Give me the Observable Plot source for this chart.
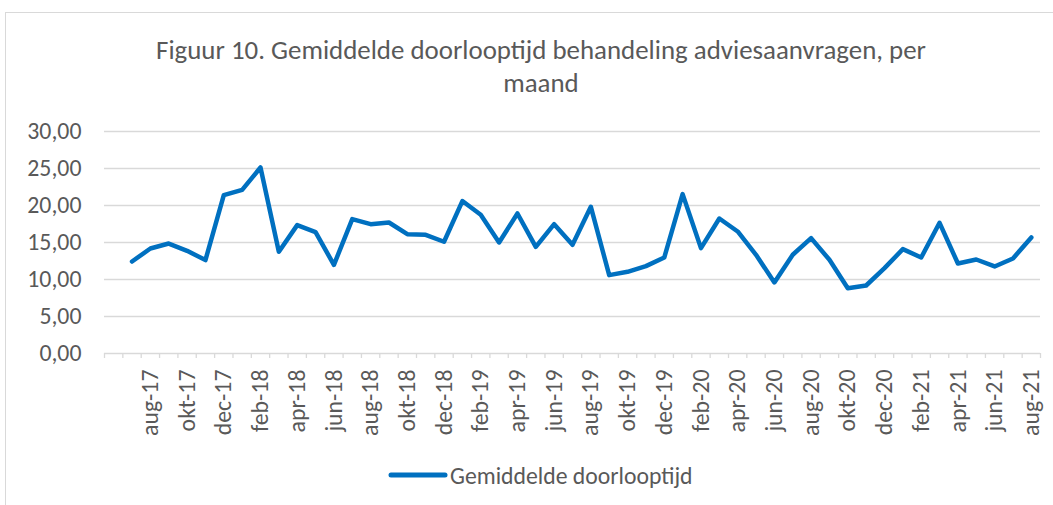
<!DOCTYPE html>
<html>
<head>
<meta charset="utf-8">
<script src="https://cdn.jsdelivr.net/npm/d3@7"></script>
<script src="https://cdn.jsdelivr.net/npm/@observablehq/plot@0.6"></script>
<style>
  html, body { margin: 0; padding: 0; background: #fff; }
  body { width: 1053px; height: 505px; overflow: hidden; position: relative;
         font-family: Calibri, Carlito, "Open Sans", sans-serif; color: #595959; }
  #frame { position: absolute; left: 5px; top: 12px; width: 1100px; height: 600px;
           border: 1px solid #d9d9d9; box-sizing: border-box; }
  #title { position: absolute; left: 0; top: 33px; width: 1082px; text-align: center;
           font-size: 26.9px; line-height: 33px; color: #595959; }
  #chart { position: absolute; left: 0; top: 0; }
  #legend { position: absolute; left: 388px; top: 461px; display: flex; align-items: center;
            font-size: 23.7px; color: #595959; height: 28px; }
</style>
</head>
<body>
<div id="frame"></div>
<div id="chart"></div>
<div id="title">Figuur 10. Gemiddelde doorlooptijd behandeling adviesaanvragen, per<br>maand</div>
<div id="legend"><svg width="60" height="10"><line x1="3" x2="57" y1="5" y2="5" stroke="#0070C0" stroke-width="5" stroke-linecap="round"/></svg><span style="margin-left:2px">Gemiddelde doorlooptijd</span></div>
<script>
// Categories (first category is blank in the source chart)
const months = ["",
  "jul-17","aug-17","sep-17","okt-17","nov-17","dec-17",
  "jan-18","feb-18","mrt-18","apr-18","mei-18","jun-18","jul-18","aug-18","sep-18","okt-18","nov-18","dec-18",
  "jan-19","feb-19","mrt-19","apr-19","mei-19","jun-19","jul-19","aug-19","sep-19","okt-19","nov-19","dec-19",
  "jan-20","feb-20","mrt-20","apr-20","mei-20","jun-20","jul-20","aug-20","sep-20","okt-20","nov-20","dec-20",
  "jan-21","feb-21","mrt-21","apr-21","mei-21","jun-21","jul-21","aug-21"];

const doorlooptijd = [null,
  12.43, 14.19, 14.86, 13.88, 12.62, 21.40,
  22.12, 25.14, 13.74, 17.35, 16.40, 11.98, 18.16, 17.48, 17.70, 16.13, 16.04, 15.10,
  20.60, 18.74, 15.00, 18.92, 14.42, 17.48, 14.69, 19.82, 10.59, 11.04, 11.81, 12.97,
  21.54, 14.24, 18.24, 16.49, 13.34, 9.60, 13.34, 15.59, 12.66, 8.83, 9.19, 11.54,
  14.10, 12.97, 17.66, 12.16, 12.70, 11.76, 12.84, 15.68];

const yTicks = [0, 5, 10, 15, 20, 25, 30];
const seriesName = "Gemiddelde doorlooptijd";

const data = months.map((m, i) => ({i, month: m, value: doorlooptijd[i]}));
const labelIdx = months.map((m, i) => i).filter(i => i % 2 === 0 && months[i] !== "");
const boundaries = d3.range(-0.5, months.length, 1);

const fmt = d => d.toFixed(2).replace(".", ",");

const chart = Plot.plot({
  width: 1053,
  height: 505,
  marginLeft: 104,
  marginRight: 13,
  marginTop: 131,
  marginBottom: 152,
  style: {fontFamily: "Calibri, Carlito, 'Open Sans', sans-serif", color: "#595959", background: "transparent"},
  x: {type: "linear", domain: [-0.5, months.length - 0.5]},
  y: {domain: [0, 30]},
  marks: [
    Plot.gridY(yTicks.filter(d => d > 0), {stroke: "#d9d9d9", strokeOpacity: 1, strokeWidth: 1.3}),
    Plot.ruleY([0], {stroke: "#d9d9d9", strokeWidth: 1.5}),
    Plot.axisY({ticks: yTicks, tickFormat: fmt, tickSize: 0, tickPadding: 23, fontSize: 23.8, fill: "#595959", label: null}),
    Plot.axisX({ticks: boundaries, tickFormat: () => "", tickSize: 5, stroke: "#d9d9d9", strokeWidth: 1.3, label: null}),
    Plot.axisX({ticks: labelIdx, tickFormat: i => months[i], tickSize: 0, tickPadding: 16, tickRotate: -90, fontSize: 23.8, fill: "#595959", label: null}),
    Plot.line(data, {x: "i", y: "value", stroke: "#0070C0", strokeWidth: 4.5, strokeLinejoin: "round", strokeLinecap: "round"})
  ]
});
document.getElementById("chart").appendChild(chart);
</script>
</body>
</html>
